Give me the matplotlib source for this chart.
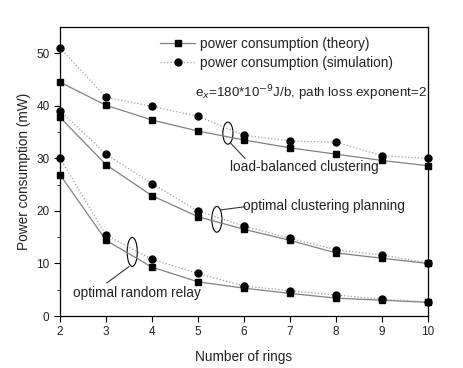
import matplotlib.pyplot as plt
from matplotlib.patches import Ellipse

rings = [2, 3, 4, 5, 6, 7, 8, 9, 10]

# load-balanced clustering
lb_theory = [44.5, 40.1, 37.3, 35.2, 33.5, 32.0, 30.8, 29.6, 28.6]
lb_sim = [51.0, 41.6, 39.9, 38.0, 34.4, 33.3, 33.1, 30.5, 30.0]

# optimal clustering planning
ocp_theory = [37.8, 28.8, 22.9, 18.9, 16.5, 14.4, 12.0, 11.0, 10.0]
ocp_sim = [39.1, 30.8, 25.2, 20.0, 17.1, 14.8, 12.6, 11.6, 10.1]

# optimal random relay
orr_theory = [26.9, 14.4, 9.3, 6.5, 5.3, 4.3, 3.4, 3.0, 2.6]
orr_sim = [30.0, 15.4, 10.8, 8.1, 5.7, 4.8, 4.0, 3.2, 2.7]

plt.rcParams['font.family'] = ['Liberation Sans', 'DejaVu Sans']
txt = '#222222'

fig = plt.figure(figsize=(4.63, 3.68), dpi=100)
ax = fig.add_axes([0.1296, 0.1413, 0.7948, 0.7853])

for th, sim in [(lb_theory, lb_sim), (ocp_theory, ocp_sim), (orr_theory, orr_sim)]:
    ax.plot(rings, th, color='#808080', lw=0.9, ls='-', marker='s', ms=5,
            mfc='black', mec='black', clip_on=False, zorder=3)
    ax.plot(rings, sim, color='#a0a0a0', lw=0.9, ls=':', marker='o', ms=5,
            mfc='black', mec='black', clip_on=False, zorder=3)

h1, = ax.plot([], [], color='#808080', lw=0.9, ls='-', marker='s', ms=5, mfc='black', mec='black')
h2, = ax.plot([], [], color='#a0a0a0', lw=0.9, ls=':', marker='o', ms=5, mfc='black', mec='black')
leg = ax.legend([h1, h2], ['power consumption (theory)', 'power consumption (simulation)'],
                loc='upper left', bbox_to_anchor=(0.272, 0.965), frameon=False, fontsize=9.8,
                handlelength=2.6, handletextpad=0.3, labelspacing=0.35, borderaxespad=0,
                borderpad=0)
for t in leg.get_texts():
    t.set_color(txt)

ax.text(4.93, 42.4, r'e$_x$=180*10$^{-9}$J/b, path loss exponent=2', fontsize=9.6,
        va='center', color=txt)

# ellipses and labels
for (cx, cy, h, w) in [(5.65, 34.8, 4.2, 0.22), (5.41, 18.4, 4.9, 0.22), (3.57, 12.2, 5.5, 0.22)]:
    ax.add_patch(Ellipse((cx, cy), w, h, fill=False, color='black', lw=0.8))

ax.plot([5.72, 6.02], [32.8, 30.0], color='#333333', lw=0.8)
ax.text(5.7, 28.3, 'load-balanced clustering', fontsize=9.8, va='center', color=txt)

ax.plot([5.5, 6.02], [20.2, 20.8], color='#333333', lw=0.8)
ax.text(5.98, 20.9, 'optimal clustering planning', fontsize=9.8, va='center', color=txt)

ax.plot([3.5, 3.02], [9.4, 6.3], color='#333333', lw=0.8)
ax.text(2.28, 4.4, 'optimal random relay', fontsize=9.8, va='center', color=txt)

ax.set_xlim(2, 10)
ax.set_ylim(0, 55)
ax.set_xticks(rings)
ax.set_yticks([0, 10, 20, 30, 40, 50])
ax.set_yticks([5, 15, 25, 35, 45], minor=True)
ax.tick_params(direction='out', labelsize=8.5, length=4, width=0.8, labelcolor=txt)
ax.tick_params(which='minor', direction='out', length=2, width=0.6)
for s in ax.spines.values():
    s.set_linewidth(0.9)

ax.set_xlabel('Number of rings', fontsize=9.8, labelpad=8, color=txt)
ax.set_ylabel('Power consumption (mW)', fontsize=9.8, color=txt)

fig.savefig('out.png', dpi=100)
